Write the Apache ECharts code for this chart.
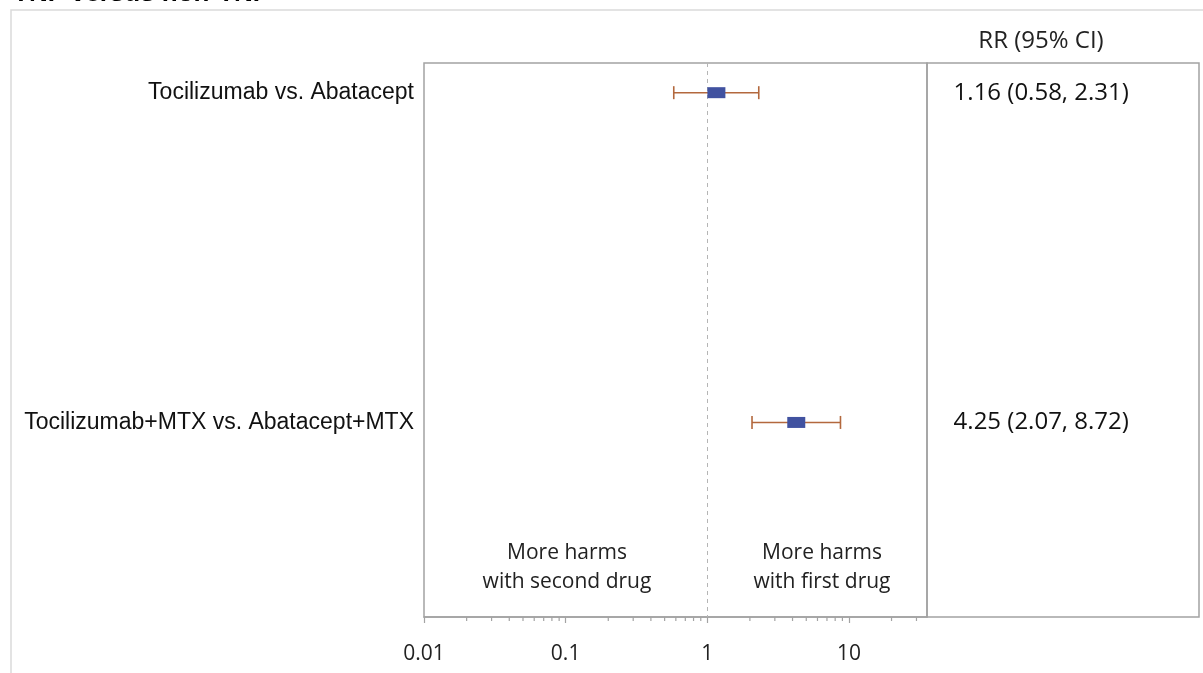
<!DOCTYPE html>
<html><head><meta charset="utf-8">
<script src="https://cdn.jsdelivr.net/npm/echarts@6/dist/echarts.min.js"></script>
<style>html,body{margin:0;padding:0;background:#fff;overflow:hidden}#c{width:1203px;height:673px}</style>
</head><body><div id="c"></div>
<script>
// ---- data ----
const titleText = 'TNF versus non-TNF';
const categories = ['Tocilizumab vs. Abatacept', 'Tocilizumab+MTX vs. Abatacept+MTX'];
const rr = [1.16, 4.25];
const lower = [0.58, 2.07];
const upper = [2.31, 8.72];
const ciLabels = ['1.16 (0.58, 2.31)', '4.25 (2.07, 8.72)'];
const columnHeader = 'RR (95% CI)';
const majorTicks = [0.01, 0.1, 1, 10];
const minorTicks = [0.02,0.03,0.04,0.05,0.06,0.07,0.08,0.09,0.2,0.3,0.4,0.5,0.6,0.7,0.8,0.9,2,3,4,5,6,7,8,9,20,30];
const noteLeft = 'More harms\nwith second drug';
const noteRight = 'More harms\nwith first drug';

// ---- layout constants ----
const rowMin = 0.91, rowMax = 2.59;
const xMin = 0.01, xMax = 35.6;
const gray = '#a3a3a3';

const chart = echarts.init(document.getElementById('c'), null, {renderer: 'canvas'});
const rowPos = categories.map((c, i) => i + 1);
const ciData = categories.map((c, i) => [rr[i], lower[i], upper[i], rowPos[i]]);

const option = {
  animation: false,
  graphic: [
    {type: 'rect', shape: {x: 11, y: 10, width: 1230, height: 720}, style: {fill: 'none', stroke: '#dadada', lineWidth: 1.5}, silent: true, z: -10},
    {type: 'text', x: 13, y: 7, style: {text: titleText, font: 'bold 26px "Liberation Sans", Arial, sans-serif', fill: '#000', textVerticalAlign: 'bottom'}},
    {type: 'text', x: 1041, y: 41, style: {text: columnHeader, font: '24px "Open Sans", sans-serif', fill: '#222', textAlign: 'center', textVerticalAlign: 'middle'}},
    {type: 'text', x: 567, y: 568, style: {text: noteLeft, font: '21px "Open Sans", sans-serif', lineHeight: 29, fill: '#222', textAlign: 'center', textVerticalAlign: 'middle'}},
    {type: 'text', x: 822, y: 568, style: {text: noteRight, font: '21px "Open Sans", sans-serif', lineHeight: 29, fill: '#222', textAlign: 'center', textVerticalAlign: 'middle'}}
  ],
  grid: [
    {left: 424, top: 63, width: 503, height: 554, show: true, borderColor: gray, borderWidth: 1.5},
    {left: 927, top: 63, width: 272, height: 554, show: true, borderColor: gray, borderWidth: 1.5}
  ],
  xAxis: [
    {type: 'log', logBase: 10, gridIndex: 0, min: xMin, max: xMax,
     axisLine: {show: true, lineStyle: {color: gray, width: 1.5}},
     axisTick: {show: true, length: 6, lineStyle: {color: gray, width: 1.2}},
     axisLabel: {fontSize: 21, color: '#222', fontFamily: 'Open Sans', margin: 27, showMaxLabel: false,
                 formatter: v => {const s = String(+(+v).toPrecision(6)); return majorTicks.indexOf(+s) >= 0 ? s : '';}},
     splitLine: {show: false}},
    {type: 'value', gridIndex: 1, min: 0, max: 1, show: false}
  ],
  yAxis: [
    {type: 'value', gridIndex: 0, inverse: true, min: rowMin, max: rowMax, show: false},
    {type: 'value', gridIndex: 1, inverse: true, min: rowMin, max: rowMax, show: false}
  ],
  series: [
    {
      type: 'custom', xAxisIndex: 0, yAxisIndex: 0, data: minorTicks.map(v => [v, rowMax]),
      encode: {x: 0, y: 1}, silent: true,
      renderItem: (params, api) => {
        const p = api.coord([api.value(0), api.value(1)]);
        return {type: 'line', shape: {x1: p[0], y1: p[1], x2: p[0], y2: p[1] + 4}, style: {stroke: gray, lineWidth: 1.2}};
      }
    },
    {
      type: 'custom', xAxisIndex: 0, yAxisIndex: 0, data: ciData,
      encode: {x: [0, 1, 2], y: 3}, z: 5,
      renderItem: (params, api) => {
        const y = api.value(3);
        const pM = api.coord([api.value(0), y]);
        const pL = api.coord([api.value(1), y]);
        const pU = api.coord([api.value(2), y]);
        const c = '#b3683d', h = 6.5;
        return {type: 'group', children: [
          {type: 'line', shape: {x1: pL[0], y1: pL[1], x2: pU[0], y2: pU[1]}, style: {stroke: c, lineWidth: 1.6}},
          {type: 'line', shape: {x1: pL[0], y1: pL[1] - h, x2: pL[0], y2: pL[1] + h}, style: {stroke: c, lineWidth: 1.6}},
          {type: 'line', shape: {x1: pU[0], y1: pU[1] - h, x2: pU[0], y2: pU[1] + h}, style: {stroke: c, lineWidth: 1.6}},
          {type: 'rect', shape: {x: pM[0] - 9, y: pM[1] - 5.5, width: 18, height: 11}, style: {fill: '#4152a0'}}
        ]};
      },
      markLine: {silent: true, symbol: 'none', label: {show: false},
                 lineStyle: {type: [4, 4], color: '#b5b5b5', width: 1},
                 data: [{xAxis: 1}]}
    },
    {
      type: 'custom', xAxisIndex: 0, yAxisIndex: 0, data: categories.map((c, i) => [xMin, rowPos[i], i]),
      encode: {x: 0, y: 1}, silent: true,
      renderItem: (params, api) => {
        const p = api.coord([api.value(0), api.value(1)]);
        return {type: 'text', x: p[0] - 10, y: p[1], style: {text: categories[api.value(2)], font: '23px "Liberation Sans", Arial, sans-serif', fill: '#111', textAlign: 'right', textVerticalAlign: 'middle'}};
      }
    },
    {
      type: 'custom', xAxisIndex: 1, yAxisIndex: 1, data: ciLabels.map((c, i) => [0.42, rowPos[i], i]),
      encode: {x: 0, y: 1}, silent: true,
      renderItem: (params, api) => {
        const p = api.coord([api.value(0), api.value(1)]);
        return {type: 'text', x: p[0], y: p[1], style: {text: ciLabels[api.value(2)], font: '24px "Open Sans", sans-serif', fill: '#111', textAlign: 'center', textVerticalAlign: 'middle'}};
      }
    }
  ]
};
chart.setOption(option);
</script></body></html>
